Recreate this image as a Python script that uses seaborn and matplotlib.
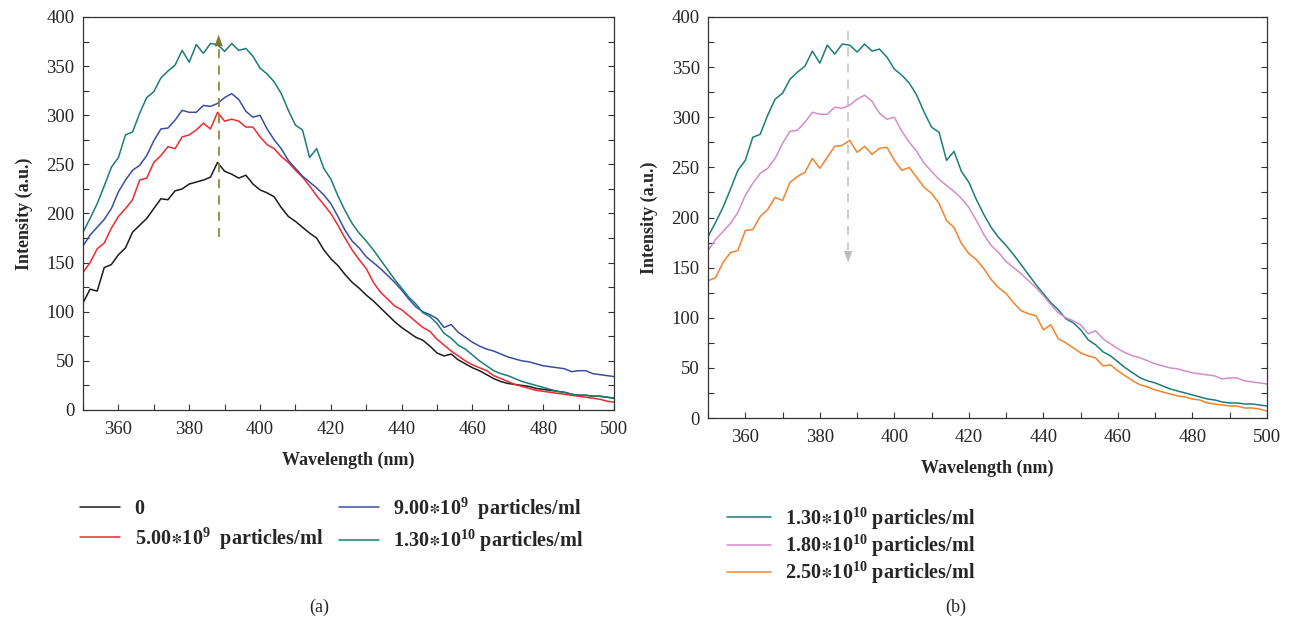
import matplotlib.pyplot as plt
import pandas as pd
import seaborn as sns
from matplotlib.ticker import MultipleLocator

# Emission spectra, every 2 nm from 350 to 500 nm.
wavelength = list(range(350, 501, 2))

# panel (a)
conc_0 = [109, 123, 121, 145, 148, 158, 165, 181, 188, 195,
          205, 215, 214, 223, 225, 230, 232, 234, 237, 252,
          243, 240, 236, 239, 230, 224, 221, 217, 206, 197,
          192, 186, 180, 175, 163, 154, 147, 138, 130, 124,
          117, 111, 104, 97, 90, 84, 79, 74, 71, 65,
          58, 55, 57, 51, 47, 43, 40, 36, 32, 29,
          27, 26, 25, 24, 22, 21, 20, 19, 18, 16,
          15, 15, 14, 14, 13, 12]
conc_5e9 = [140, 150, 164, 170, 185, 197, 205, 214, 234, 236,
            252, 259, 268, 266, 278, 280, 285, 292, 286, 303,
            294, 296, 294, 288, 288, 278, 270, 266, 258, 252,
            244, 237, 228, 218, 209, 200, 188, 175, 163, 153,
            144, 130, 120, 113, 106, 102, 96, 90, 84, 80,
            72, 66, 60, 55, 50, 46, 43, 40, 35, 32,
            29, 26, 24, 22, 20, 19, 18, 17, 16, 15,
            14, 13, 12, 11, 9, 8]
conc_9e9 = [167, 178, 186, 194, 205, 222, 234, 244, 249, 259,
            274, 286, 287, 295, 305, 303, 303, 310, 309, 312,
            318, 322, 316, 304, 298, 300, 286, 275, 266, 254,
            246, 238, 232, 226, 219, 210, 197, 183, 172, 165,
            156, 150, 144, 137, 130, 122, 113, 105, 100, 97,
            93, 84, 87, 79, 74, 69, 65, 62, 60, 57,
            54, 52, 50, 49, 47, 45, 44, 43, 42, 39,
            40, 40, 37, 36, 35, 34]
conc_13e10 = [181, 195, 210, 228, 247, 257, 280, 283, 302, 318,
              324, 338, 345, 351, 366, 354, 372, 363, 373, 372,
              365, 373, 366, 368, 360, 348, 342, 334, 322, 305,
              290, 285, 257, 266, 246, 235, 218, 203, 190, 180,
              172, 163, 153, 143, 133, 124, 115, 108, 99, 95,
              88, 78, 73, 66, 62, 56, 50, 45, 40, 37,
              35, 32, 29, 27, 25, 23, 21, 19, 18, 16,
              15, 15, 14, 14, 13, 12]

# panel (b): the first two traces match the (a) curves point for point
conc_18e10 = list(conc_9e9)
conc_25e10 = [137, 140, 155, 165, 167, 187, 188, 201, 208, 220,
              217, 235, 241, 245, 259, 249, 260, 271, 272, 277,
              265, 271, 263, 269, 270, 257, 247, 250, 240, 230,
              224, 214, 197, 190, 174, 164, 158, 149, 138, 130,
              124, 115, 107, 104, 102, 88, 93, 79, 75, 70,
              65, 62, 60, 52, 53, 47, 42, 37, 33, 31,
              28, 26, 24, 22, 21, 19, 18, 15, 14, 13,
              12, 12, 10, 10, 9, 7]

labels_a = ["0",
            "5.00$\\ast$10$^{9}$  particles/ml",
            "9.00$\\ast$10$^{9}$  particles/ml",
            "1.30$\\ast$10$^{10}$ particles/ml"]
labels_b = ["1.30$\\ast$10$^{10}$ particles/ml",
            "1.80$\\ast$10$^{10}$ particles/ml",
            "2.50$\\ast$10$^{10}$ particles/ml"]
colors_a = ["#1c1c1c", "#ee2a2e", "#3a4ea2", "#1b7d78"]
colors_b = ["#1b7d78", "#d58ccd", "#f5822a"]


def long_table(series, labels):
    rows = []
    for vals, lab in zip(series, labels):
        rows.append(pd.DataFrame({"wavelength": wavelength, "intensity": vals, "sample": lab}))
    return pd.concat(rows, ignore_index=True)


df_a = long_table([conc_0, conc_5e9, conc_9e9, conc_13e10], labels_a)
df_b = long_table([conc_13e10, conc_18e10, conc_25e10], labels_b)

sns.set_theme(style="white")
plt.rcParams["font.family"] = ["Liberation Serif", "DejaVu Serif"]
plt.rcParams["mathtext.fontset"] = "custom"
plt.rcParams["mathtext.rm"] = "Liberation Serif"
plt.rcParams["mathtext.bf"] = "Liberation Serif:bold"
plt.rcParams["mathtext.default"] = "bf"
plt.rcParams["mathtext.fallback"] = "stix"

fig = plt.figure(figsize=(12.93, 6.27), dpi=100)
ax_a = fig.add_axes([0.0642, 0.3461, 0.4107, 0.6268])
ax_b = fig.add_axes([0.5476, 0.3333, 0.4323, 0.6396])


def style_axes(ax):
    ax.set_xlim(350, 500)
    ax.set_ylim(0, 400)
    ax.xaxis.set_major_locator(MultipleLocator(20))
    ax.xaxis.set_minor_locator(MultipleLocator(10))
    ax.yaxis.set_major_locator(MultipleLocator(50))
    ax.yaxis.set_minor_locator(MultipleLocator(25))
    ax.tick_params(which="both", direction="in", left=True, right=True,
                   bottom=True, top=False, length=4, width=0.8, color="#333333")
    ax.tick_params(axis="y", labelsize=13.5, pad=6)
    ax.tick_params(axis="x", labelsize=13.5, pad=8)
    for sp in ax.spines.values():
        sp.set_color("#333333")
        sp.set_linewidth(0.9)
    ax.set_xlabel("Wavelength (nm)", fontsize=13, fontweight="bold", labelpad=10)
    ax.set_ylabel("Intensity (a.u.)", fontsize=13, fontweight="bold", labelpad=10)


sns.lineplot(data=df_a, x="wavelength", y="intensity", hue="sample", hue_order=labels_a,
             palette=colors_a, ax=ax_a, legend=False, linewidth=1.1)
sns.lineplot(data=df_b, x="wavelength", y="intensity", hue="sample", hue_order=labels_b,
             palette=colors_b, ax=ax_b, legend=False, linewidth=1.1)
handles_a = list(ax_a.get_lines())
handles_b = list(ax_b.get_lines())
style_axes(ax_a)
style_axes(ax_b)

# dashed arrows marking the peak shift
ax_a.plot([388.3, 388.3], [176, 370], ls=(0, (5, 4)), color="#8c8a3e", lw=1.3)
ax_a.annotate("", xy=(388.3, 382), xytext=(388.3, 366),
              arrowprops=dict(arrowstyle="-|>,head_width=0.25,head_length=0.7",
                              color="#7d7a30", lw=0, shrinkA=0, shrinkB=0))
ax_b.plot([387.6, 387.6], [386, 168], ls=(0, (5, 4)), color="#c8c8c8", lw=1.3)
ax_b.annotate("", xy=(387.6, 155), xytext=(387.6, 172),
              arrowprops=dict(arrowstyle="-|>,head_width=0.25,head_length=0.7",
                              color="#bdbdbd", lw=0, shrinkA=0, shrinkB=0))

leg_font = dict(weight="bold", size=14.5)
fig.legend(handles_a, labels_a, loc="upper left", bbox_to_anchor=(0.062, 0.21), ncol=2,
           frameon=False, prop=leg_font, handlelength=2.0, handletextpad=0.7,
           columnspacing=0.8, labelspacing=0.3, borderaxespad=0, borderpad=0)
fig.legend(handles_b, labels_b, loc="upper left", bbox_to_anchor=(0.562, 0.194), ncol=1,
           frameon=False, prop=leg_font, handlelength=2.2, handletextpad=0.7,
           labelspacing=0.05, borderaxespad=0, borderpad=0)

fig.text(319 / 1293, 1 - 607 / 627, "(a)", ha="center", va="center", fontsize=13)
fig.text(956 / 1293, 1 - 607 / 627, "(b)", ha="center", va="center", fontsize=13)

fig.savefig("out.png", dpi=100)
